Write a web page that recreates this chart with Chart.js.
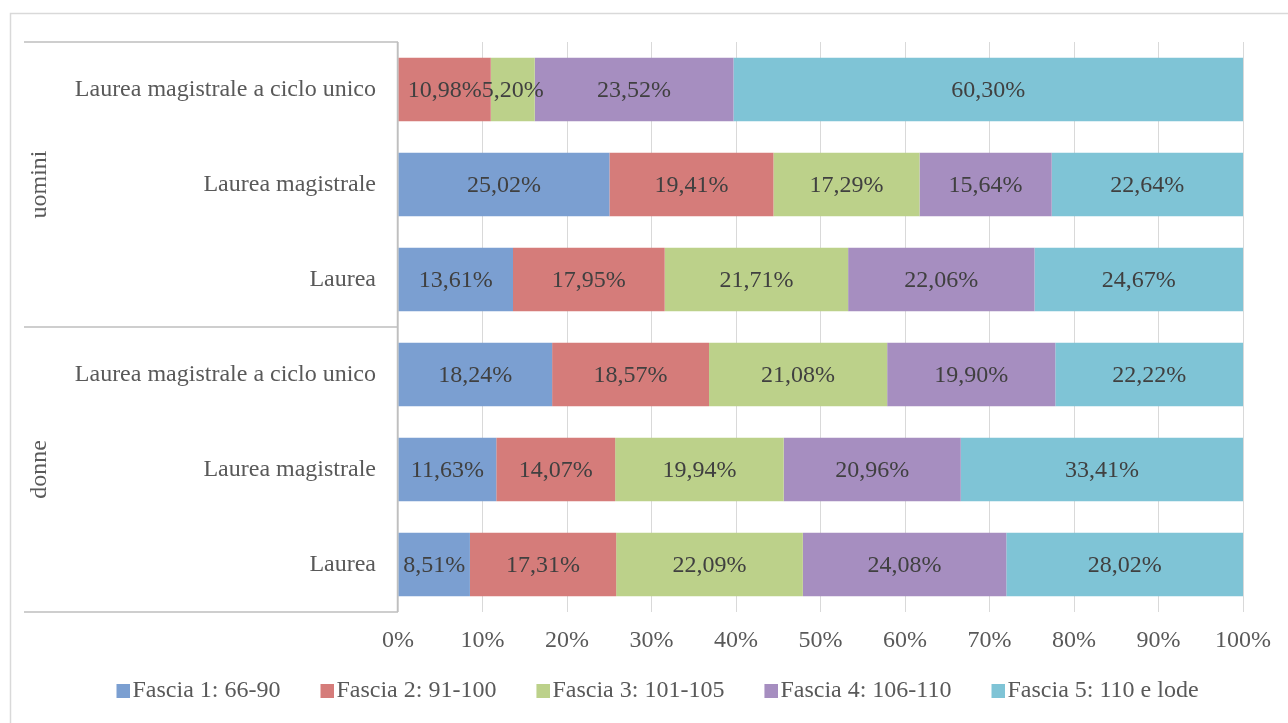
<!DOCTYPE html>
<html>
<head>
<meta charset="utf-8">
<script src="https://cdn.jsdelivr.net/npm/chart.js@4"></script>
<style>
  html, body { margin: 0; padding: 0; background: #fff; }
  #wrap { width: 1288px; height: 723px; }
</style>
</head>
<body>
<div id="wrap"><canvas id="gradeChart" width="1288" height="723"></canvas></div>
<script>
const categories = ['Laurea magistrale a ciclo unico', 'Laurea magistrale', 'Laurea',
                    'Laurea magistrale a ciclo unico', 'Laurea magistrale', 'Laurea'];
const groups = ['uomini', 'donne'];
const seriesNames = ['Fascia 1: 66-90', 'Fascia 2: 91-100', 'Fascia 3: 101-105', 'Fascia 4: 106-110', 'Fascia 5: 110 e lode'];
const fascia1 = [null, 25.02, 13.61, 18.24, 11.63, 8.51];
const fascia2 = [10.98, 19.41, 17.95, 18.57, 14.07, 17.31];
const fascia3 = [5.20, 17.29, 21.71, 21.08, 19.94, 22.09];
const fascia4 = [23.52, 15.64, 22.06, 19.90, 20.96, 24.08];
const fascia5 = [60.30, 22.64, 24.67, 22.22, 33.41, 28.02];
const xTicks = [0, 10, 20, 30, 40, 50, 60, 70, 80, 90, 100];

const colors = ['#7b9fd1', '#d57c7a', '#bcd18a', '#a68ec0', '#7fc4d6'];
const FONT = 'Liberation Serif, Times New Roman, serif';
const FS = 24;

// quadratino della legenda, spostato a destra per stare vicino al testo
function legendMarker(color) {
    const c = document.createElement('canvas');
    c.width = 54;
    c.height = 14;
    const g = c.getContext('2d');
    g.fillStyle = color;
    g.fillRect(40, 0, 14, 14);
    return c;
}

// etichette dentro le barre
const barLabels = {
    id: 'barLabels',
    afterDatasetsDraw(chart) {
        const ctx = chart.ctx;
        ctx.save();
        ctx.font = FS + 'px ' + FONT;
        ctx.fillStyle = '#404040';
        ctx.textAlign = 'center';
        ctx.textBaseline = 'middle';
        chart.data.datasets.forEach((ds, i) => {
            chart.getDatasetMeta(i).data.forEach((bar, j) => {
                const v = ds.data[j];
                if (v == null) return;
                const p = bar.getCenterPoint();
                ctx.fillText(v.toFixed(2).replace('.', ',') + '%', p.x, p.y + 1);
            });
        });
        ctx.restore();
    }
};

// cornice, linee dei gruppi e nomi dei gruppi
const groupAxis = {
    id: 'groupAxis',
    afterDraw(chart) {
        const ctx = chart.ctx;
        const y = chart.scales.y;
        const area = chart.chartArea;
        const step = y.getPixelForValue(1) - y.getPixelForValue(0);
        ctx.save();
        ctx.strokeStyle = '#d9d9d9';
        ctx.lineWidth = 1.5;
        ctx.strokeRect(10.5, 13.5, 1400, 800);

        ctx.strokeStyle = '#bfbfbf';
        ctx.lineWidth = 1.5;
        ctx.beginPath();
        ctx.moveTo(area.left - 0.5, area.top);
        ctx.lineTo(area.left - 0.5, area.bottom);
        [0, 3, 6].forEach(k => {
            const py = y.getPixelForValue(0) - step / 2 + k * step;
            ctx.moveTo(24, py);
            ctx.lineTo(area.left, py);
        });
        ctx.stroke();

        ctx.font = FS + 'px ' + FONT;
        ctx.fillStyle = '#595959';
        ctx.textAlign = 'center';
        ctx.textBaseline = 'middle';
        groups.forEach((g, k) => {
            const py = y.getPixelForValue(k * 3 + 1);
            ctx.save();
            ctx.translate(40, py);
            ctx.rotate(-Math.PI / 2);
            ctx.fillText(g, 0, 0);
            ctx.restore();
        });
        ctx.restore();
    }
};

const series = [fascia1, fascia2, fascia3, fascia4, fascia5];

new Chart(document.getElementById('gradeChart'), {
    type: 'bar',
    data: {
        labels: categories,
        datasets: series.map((d, i) => ({
            label: seriesNames[i],
            data: d,
            backgroundColor: colors[i],
            borderWidth: 0,
            categoryPercentage: 1,
            barPercentage: 0.67
        }))
    },
    options: {
        indexAxis: 'y',
        responsive: false,
        animation: false,
        layout: { padding: { left: 42, right: 45, top: 42, bottom: 10 } },
        scales: {
            x: {
                stacked: true,
                min: 0,
                max: 100,
                afterBuildTicks: s => { s.ticks = xTicks.map(v => ({ value: v })); },
                afterFit: s => { s.height = 57; },
                grid: { color: '#d9d9d9', lineWidth: 1, drawTicks: false },
                border: { display: false },
                ticks: {
                    callback: v => v + '%',
                    color: '#595959',
                    font: { family: FONT, size: FS },
                    padding: 14,
                    maxRotation: 0
                }
            },
            y: {
                stacked: true,
                afterFit: s => { s.width = 356; },
                grid: { display: false, drawTicks: false },
                border: { display: false },
                ticks: {
                    color: '#595959',
                    font: { family: FONT, size: FS },
                    padding: 22
                }
            }
        },
        plugins: {
            legend: {
                position: 'bottom',
                labels: {
                    color: '#595959',
                    font: { family: FONT, size: FS },
                    usePointStyle: true,
                    pointStyleWidth: 34,
                    boxHeight: 14,
                    padding: 10,
                    generateLabels: chart => {
                        const items = Chart.defaults.plugins.legend.labels.generateLabels(chart);
                        items.forEach((it, i) => { it.pointStyle = legendMarker(colors[i]); });
                        return items;
                    }
                }
            },
            tooltip: { enabled: false }
        }
    },
    plugins: [barLabels, groupAxis]
});
</script>
</body>
</html>
